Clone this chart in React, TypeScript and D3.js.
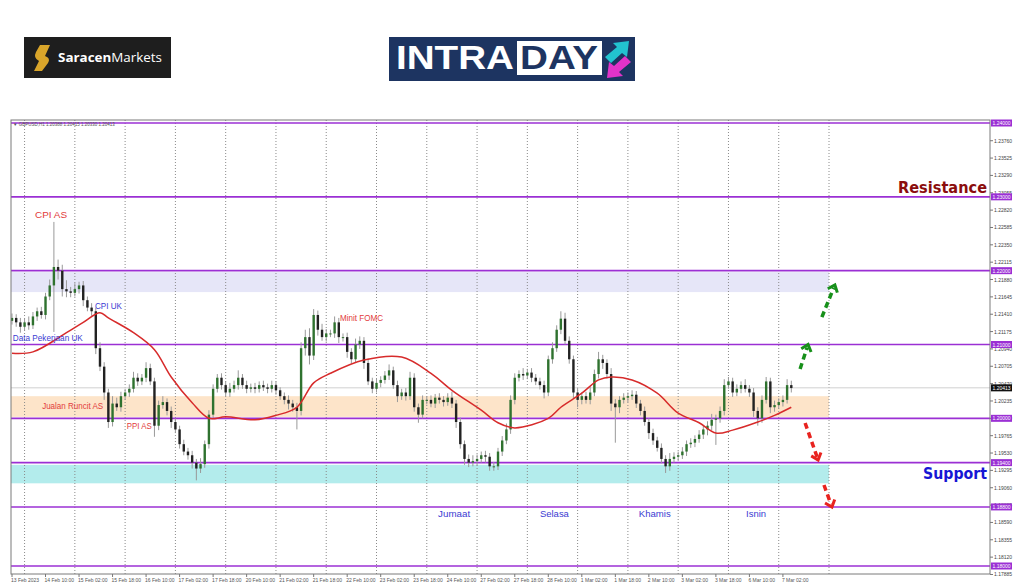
import React, { useEffect, useRef } from 'react';
import * as d3 from 'd3';

// GBPUSD 2-hour candles from 13 Feb 18:00 to 7 Mar 06:00, prices in pips (12136 = 1.2136)
const firstOpen = 12132;
const closes = [
  12136, 12130, 12124, 12130, 12126, 12138, 12145, 12140, 12165, 12180,
  12205, 12200, 12175, 12172, 12170, 12175, 12180, 12160, 12150, 12145,
  12095, 12070, 12035, 11995, 12020, 12015, 12030, 12035, 12040, 12055,
  12050, 12055, 12068, 12050, 11990, 12018, 12022, 12010, 11995, 11985,
  11965, 11955, 11950, 11940, 11932, 11938, 11965, 12005, 12040, 12055,
  12045, 12035, 12040, 12045, 12055, 12045, 12040, 12042, 12040, 12045,
  12042, 12040, 12045, 12038, 12030, 12025, 12020, 12015, 12010, 12095,
  12110, 12085, 12140, 12120, 12110, 12115, 12115, 12130, 12110, 12110,
  12090, 12080, 12100, 12105, 12075, 12050, 12040, 12048, 12052, 12058,
  12065, 12045, 12030, 12035, 12030, 12055, 12015, 12005, 12025, 12025,
  12020, 12028, 12025, 12022, 12028, 12020, 11995, 11965, 11945, 11940,
  11942, 11945, 11950, 11948, 11935, 11935, 11955, 11970, 11985, 12025,
  12055, 12060, 12058, 12062, 12055, 12050, 12045, 12035, 12080, 12095,
  12120, 12135, 12105, 12080, 12035, 12025, 12030, 12025, 12035, 12060,
  12080, 12075, 12060, 12020, 12015, 12025, 12028, 12030, 12032, 12020,
  12010, 11995, 11980, 11970, 11960, 11945, 11935, 11945, 11948, 11950,
  11955, 11965, 11967, 11972, 11978, 11985, 11990, 11998, 12000, 12010,
  12045, 12050, 12035, 12040, 12045, 12040, 12035, 12010, 12000, 12025,
  12050, 12015, 12018, 12022, 12025, 12045, 12041,
];
const wickUp = [
  6, 5, 6, 5, 8, 6, 5, 6, 5, 8,
  61, 10, 8, 12, 6, 8, 5, 6, 5, 6,
  5, 8, 6, 5, 10, 8, 6, 5, 6, 8,
  6, 5, 8, 6, 5, 6, 8, 5, 6, 5,
  5, 6, 5, 6, 5, 8, 5, 6, 6, 5,
  6, 5, 8, 6, 10, 5, 6, 5, 6, 5,
  6, 5, 6, 5, 4, 5, 6, 5, 6, 8,
  10, 12, 8, 6, 8, 6, 5, 8, 6, 5,
  6, 5, 8, 6, 5, 6, 5, 6, 5, 6,
  8, 5, 6, 5, 6, 8, 6, 5, 6, 5,
  6, 5, 6, 5, 6, 8, 5, 6, 5, 6,
  8, 6, 5, 6, 5, 6, 5, 6, 8, 6,
  6, 5, 8, 5, 6, 5, 5, 6, 5, 8,
  6, 10, 8, 6, 5, 6, 5, 6, 8, 6,
  10, 6, 5, 8, 6, 5, 6, 5, 6, 5,
  5, 6, 5, 6, 5, 6, 5, 8, 6, 5,
  6, 5, 6, 5, 6, 5, 6, 8, 5, 6,
  8, 6, 5, 6, 5, 8, 5, 6, 5, 6,
  6, 5, 6, 5, 6, 8, 6,
];
const wickDown = [
  5, 6, 8, 5, 6, 5, 6, 5, 6, 5,
  63, 12, 10, 8, 6, 5, 6, 8, 5, 6,
  8, 6, 10, 8, 6, 5, 6, 5, 6, 5,
  6, 5, 6, 5, 15, 6, 5, 6, 8, 5,
  6, 5, 6, 8, 16, 6, 5, 6, 5, 5,
  6, 5, 6, 5, 6, 5, 6, 5, 6, 5,
  5, 6, 5, 6, 5, 6, 8, 6, 25, 6,
  10, 12, 6, 8, 5, 6, 5, 6, 8, 6,
  8, 6, 5, 6, 8, 5, 6, 5, 6, 5,
  6, 5, 8, 5, 6, 5, 6, 11, 5, 6,
  5, 6, 5, 6, 5, 6, 8, 6, 8, 6,
  5, 6, 5, 8, 6, 6, 5, 6, 5, 6,
  6, 5, 6, 5, 6, 5, 6, 8, 5, 6,
  5, 6, 5, 6, 8, 10, 6, 5, 6, 5,
  6, 8, 6, 10, 48, 8, 5, 6, 5, 6,
  6, 5, 8, 6, 5, 6, 9, 6, 5, 6,
  5, 6, 5, 6, 5, 6, 8, 6, 34, 6,
  6, 5, 6, 5, 6, 5, 6, 8, 10, 6,
  5, 8, 6, 5, 6, 5, 6,
];

// moving average: [candle index, pips]
const maIndex = [0, 5, 13, 17, 21, 23, 29, 34, 38, 43, 47, 51, 58, 63, 68, 72, 76, 84, 93, 100, 105, 112, 116, 120, 128, 131, 136, 140, 143, 148, 154, 159, 164, 168, 172, 178, 182, 186];
const maValue = [12088, 12090, 12116, 12130, 12143, 12136, 12116, 12093, 12056, 12021, 12000, 12002, 11998, 12004, 12015, 12048, 12061, 12079, 12083, 12061, 12038, 12011, 11994, 11987, 12000, 12015, 12034, 12052, 12056, 12052, 12034, 12007, 11994, 11980, 11984, 11995, 12004, 12015];

const levels = [1.24, 1.23, 1.22, 1.21, 1.2, 1.194, 1.188, 1.18];
const levelLabels = ['1.24000', '1.23000', '1.22000', '1.21000', '1.20000', '1.19400', '1.18800', '1.18000'];
const zoneTop = [1.2198, 1.2030, 1.1937];
const zoneBottom = [1.2171, 1.2002, 1.1912];
const zoneColors = ['#e6e6f8', '#fde4c9', '#b3ecec'];

const priceTicks = [
  '1.17885', '1.18120', '1.18355', '1.18590', '1.18825', '1.19060', '1.19295', '1.19530', '1.19765',
  '1.20000', '1.20235', '1.20470', '1.20705', '1.20940', '1.21175', '1.21410', '1.21645', '1.21880',
  '1.22115', '1.22350', '1.22585', '1.22820', '1.23055', '1.23290', '1.23525', '1.23760',
];
const lastPrice = 1.20413;

const timeLabels = [
  '13 Feb 2023', '14 Feb 10:00', '15 Feb 02:00', '15 Feb 18:00', '16 Feb 10:00', '17 Feb 02:00',
  '17 Feb 18:00', '20 Feb 10:00', '21 Feb 02:00', '21 Feb 18:00', '22 Feb 10:00', '23 Feb 02:00',
  '23 Feb 18:00', '24 Feb 10:00', '27 Feb 02:00', '27 Feb 18:00', '28 Feb 10:00', '1 Mar 02:00',
  '1 Mar 18:00', '2 Mar 10:00', '3 Mar 02:00', '3 Mar 18:00', '6 Mar 10:00', '7 Mar 02:00',
];

const notes = [
  { text: 'CPI AS', i: 5.5, p: 1.22713, color: '#e23b3b', w: 32 },
  { text: 'CPI UK', i: 19.8, p: 1.21481, color: '#3b3bd2', w: 27 },
  { text: 'Data Pekerjaan UK', i: 0.2, p: 1.21047, color: '#3b3bd2', w: 70 },
  { text: 'Jualan Runcit AS', i: 7.2, p: 1.20126, color: '#e23b3b', w: 61 },
  { text: 'PPI AS', i: 27.4, p: 1.19855, color: '#e23b3b', w: 25 },
  { text: 'Minit FOMC', i: 78.3, p: 1.21318, color: '#e23b3b', w: 43 },
  { text: 'Jumaat', i: 101.7, p: 1.18663, color: '#3b3bd2', w: 32 },
  { text: 'Selasa', i: 126.0, p: 1.18663, color: '#3b3bd2', w: 29 },
  { text: 'Khamis', i: 149.6, p: 1.18663, color: '#3b3bd2', w: 32 },
  { text: 'Isnin', i: 175.2, p: 1.18663, color: '#3b3bd2', w: 20 },
];

// scenario arrows: [from candle, from price, to candle, to price]
const arrows = [
  { from: [188.1, 1.20668], to: [190.0, 1.20999], color: '#17901a' },
  { from: [193.3, 1.21372], to: [196.4, 1.21806], color: '#17901a' },
  { from: [189.3, 1.19937], to: [192.4, 1.19436], color: '#e8231f' },
  { from: [193.8, 1.19097], to: [195.7, 1.18799], color: '#e8231f' },
];

export default function App() {
  const svgRef = useRef<SVGSVGElement>(null);

  useEffect(() => {
    if (!svgRef.current) return;
    const svg = d3.select(svgRef.current);
    const width = 1024;
    const height = 587;
    const plot = { left: 11, right: 990, top: 120, bottom: 574 };

    svg.selectAll('*').remove();
    svg.attr('width', width).attr('height', height).attr('viewBox', [0, 0, width, height]);

    svg.append('rect').attr('width', width).attr('height', height).attr('fill', '#fff');

    // header logos
    const logo = svg.append('g');
    logo.append('rect').attr('x', 24).attr('y', 37).attr('width', 147).attr('height', 41).attr('fill', '#1e1e1e');
    logo.append('path')
      .attr('d', 'M40,45 L50,45 L45,56 Q51,58 48,63 L42,71 L34,71 L39,61 Q33,58 36,52 Z')
      .attr('fill', '#d9a52a');
    const st = logo.append('text').attr('x', 58).attr('y', 62).attr('fill', '#fff')
      .attr('font-family', '"Open Sans", sans-serif').attr('font-size', 13)
      .attr('textLength', 104).attr('lengthAdjust', 'spacingAndGlyphs');
    st.append('tspan').attr('font-weight', 700).text('Saracen');
    st.append('tspan').attr('font-weight', 400).text('Markets');

    const intra = svg.append('g');
    intra.append('rect').attr('x', 389).attr('y', 37).attr('width', 246).attr('height', 44).attr('fill', '#1d3461');
    intra.append('rect').attr('x', 517).attr('y', 41).attr('width', 85).attr('height', 34).attr('fill', '#fff');
    intra.append('text').attr('x', 396).attr('y', 69).attr('fill', '#fff')
      .attr('font-family', '"Liberation Sans", Arial, sans-serif').attr('font-weight', 700).attr('font-size', 34)
      .attr('textLength', 118).attr('lengthAdjust', 'spacingAndGlyphs').text('INTRA');
    intra.append('text').attr('x', 520).attr('y', 69).attr('fill', '#1d3461')
      .attr('font-family', '"Liberation Sans", Arial, sans-serif').attr('font-weight', 700).attr('font-size', 34)
      .attr('textLength', 78).attr('lengthAdjust', 'spacingAndGlyphs').text('DAY');
    intra.append('path').attr('d', 'M605,57 L617,47 L613,43 L629,41 L627,57 L622,53 L611,63 Z').attr('fill', '#22c3cf');
    intra.append('path').attr('d', 'M631,62 L619,72 L623,76 L607,78 L609,62 L614,66 L625,56 Z').attr('fill', '#e233c9');

    const x = d3.scaleLinear().domain([0, closes.length - 1]).range([12, 791.3]);
    const y = d3.scaleLinear().domain([1.18, 1.24]).range([566, 123]);
    const px = (v: number) => y(v / 10000);

    svg.append('defs').append('clipPath').attr('id', 'plot-clip')
      .append('rect').attr('x', plot.left).attr('y', plot.top)
      .attr('width', plot.right - plot.left).attr('height', plot.bottom - plot.top);

    const g = svg.append('g').attr('clip-path', 'url(#plot-clip)');

    // zones
    zoneTop.forEach((t, k) => {
      g.append('rect')
        .attr('x', plot.left).attr('y', y(t))
        .attr('width', x(195) - plot.left).attr('height', y(zoneBottom[k]) - y(t))
        .attr('fill', zoneColors[k]);
    });

    // day separators
    const dayStarts = d3.range(3, 200, 12);
    g.selectAll('.grid').data(dayStarts).enter().append('line')
      .attr('x1', d => x(d)).attr('x2', d => x(d))
      .attr('y1', plot.top).attr('y2', plot.bottom)
      .attr('stroke', '#8a8a8a').attr('stroke-width', 1).attr('stroke-dasharray', '1,2');

    // current price line
    g.append('line').attr('x1', plot.left).attr('x2', plot.right)
      .attr('y1', y(lastPrice)).attr('y2', y(lastPrice))
      .attr('stroke', '#d0d0d0').attr('stroke-width', 1);

    // levels
    g.selectAll('.lvl').data(levels).enter().append('line')
      .attr('x1', plot.left).attr('x2', plot.right)
      .attr('y1', d => y(d)).attr('y2', d => y(d))
      .attr('stroke', '#9b30d4').attr('stroke-width', 1.6);

    // candles
    const candles = closes.map((c, i) => {
      const o = i === 0 ? firstOpen : closes[i - 1];
      return { i, o, c, h: Math.max(o, c) + wickUp[i], l: Math.min(o, c) - wickDown[i] };
    });
    const cg = g.append('g');
    cg.selectAll('.wick').data(candles).enter().append('line')
      .attr('x1', d => x(d.i)).attr('x2', d => x(d.i))
      .attr('y1', d => px(d.h)).attr('y2', d => px(d.l))
      .attr('stroke', '#999').attr('stroke-width', 1);
    cg.selectAll('.body').data(candles).enter().append('rect')
      .attr('x', d => x(d.i) - 1.2).attr('width', 2.4)
      .attr('y', d => px(Math.max(d.o, d.c)))
      .attr('height', d => Math.max(1, Math.abs(px(d.o) - px(d.c))))
      .attr('fill', d => (d.c >= d.o ? '#2f722f' : '#222'));

    // moving average
    const ma = d3.line<number>()
      .x((_, k) => x(maIndex[k]))
      .y(d => px(d))
      .curve(d3.curveCatmullRom.alpha(0.5));
    g.append('path').datum(maValue).attr('fill', 'none')
      .attr('stroke', '#d72b2b').attr('stroke-width', 1.5).attr('d', ma);

    // notes
    g.selectAll('.note').data(notes).enter().append('text')
      .attr('x', d => x(d.i)).attr('y', d => y(d.p))
      .attr('fill', d => d.color)
      .attr('font-family', '"Liberation Sans", Arial, sans-serif').attr('font-size', 9.5)
      .attr('textLength', d => d.w).attr('lengthAdjust', 'spacingAndGlyphs')
      .text(d => d.text);

    // scenario arrows
    arrows.forEach(a => {
      const x1 = x(a.from[0]);
      const y1 = y(a.from[1]);
      const x2 = x(a.to[0]);
      const y2 = y(a.to[1]);
      const ang = Math.atan2(y2 - y1, x2 - x1);
      const len = 8;
      g.append('line').attr('x1', x1).attr('y1', y1)
        .attr('x2', x2 - Math.cos(ang) * 3).attr('y2', y2 - Math.sin(ang) * 3)
        .attr('stroke', a.color).attr('stroke-width', 3.5).attr('stroke-dasharray', '6,4');
      const p1 = [x2 - len * Math.cos(ang - 0.7), y2 - len * Math.sin(ang - 0.7)];
      const p2 = [x2 - len * Math.cos(ang + 0.7), y2 - len * Math.sin(ang + 0.7)];
      g.append('path')
        .attr('d', `M${p1[0]},${p1[1]} L${x2},${y2} L${p2[0]},${p2[1]}`)
        .attr('fill', 'none').attr('stroke', a.color).attr('stroke-width', 3)
        .attr('stroke-linejoin', 'miter');
    });

    // chart info line
    svg.append('text').attr('x', 13).attr('y', 126).attr('fill', '#555')
      .attr('font-family', '"Liberation Sans", Arial, sans-serif').attr('font-size', 4.5)
      .text('\u25BC GBPUSD,H1  1.20388 1.20415 1.20330 1.20413');

    // frame
    svg.append('rect').attr('x', plot.left).attr('y', plot.top)
      .attr('width', plot.right - plot.left).attr('height', plot.bottom - plot.top)
      .attr('fill', 'none').attr('stroke', '#7a7a7a').attr('stroke-width', 1);

    // price axis
    const axisFont = '"Liberation Sans", Arial, sans-serif';
    svg.selectAll('.ptick').data(priceTicks).enter().append('line')
      .attr('x1', plot.right).attr('x2', plot.right + 3)
      .attr('y1', d => y(+d)).attr('y2', d => y(+d))
      .attr('stroke', '#777');
    svg.selectAll('.plabel').data(priceTicks).enter().append('text')
      .attr('x', plot.right + 4).attr('y', d => y(+d) + 2)
      .attr('fill', '#444').attr('font-family', axisFont).attr('font-size', 5)
      .text(d => d);

    const tags = levels.map((v, k) => ({ v, label: levelLabels[k], fill: '#9b30d4' }))
      .concat([{ v: lastPrice, label: '1.20413', fill: '#111' }]);
    const tag = svg.selectAll('.tag').data(tags).enter().append('g');
    tag.append('rect').attr('x', plot.right + 1).attr('y', d => y(d.v) - 3.5)
      .attr('width', 21).attr('height', 7).attr('fill', d => d.fill);
    tag.append('text').attr('x', plot.right + 2.5).attr('y', d => y(d.v) + 2)
      .attr('fill', '#fff').attr('font-family', axisFont).attr('font-size', 5)
      .text(d => d.label);

    // time axis
    svg.selectAll('.tlabel').data(timeLabels).enter().append('text')
      .attr('x', (_, k) => x(k * 8) - 1).attr('y', 582)
      .attr('fill', '#555').attr('font-family', axisFont).attr('font-size', 5)
      .text(d => d);
    svg.selectAll('.ttick').data(timeLabels).enter().append('line')
      .attr('x1', (_, k) => x(k * 8)).attr('x2', (_, k) => x(k * 8))
      .attr('y1', plot.bottom).attr('y2', plot.bottom + 3)
      .attr('stroke', '#777');

    // zone titles
    svg.append('text').attr('x', 898).attr('y', 193).attr('fill', '#8b0d0d')
      .attr('font-family', '"DejaVu Sans", sans-serif').attr('font-weight', 700).attr('font-size', 16)
      .attr('textLength', 89).attr('lengthAdjust', 'spacingAndGlyphs').text('Resistance');
    svg.append('text').attr('x', 923).attr('y', 479).attr('fill', '#1616d4')
      .attr('font-family', '"DejaVu Sans", sans-serif').attr('font-weight', 700).attr('font-size', 16)
      .attr('textLength', 64).attr('lengthAdjust', 'spacingAndGlyphs').text('Support');
  }, []);

  return (
    <div style={{ position: 'absolute', left: 0, top: 0 }}>
      <svg ref={svgRef} />
    </div>
  );
}
